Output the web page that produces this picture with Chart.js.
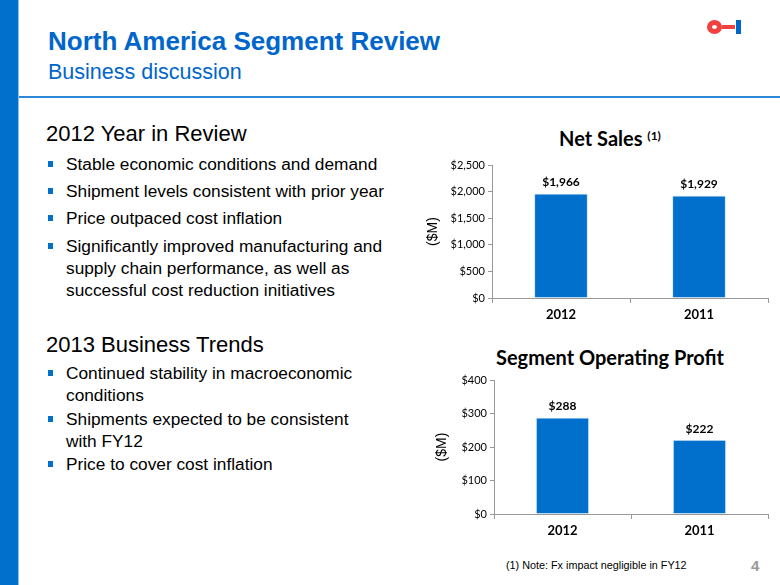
<!DOCTYPE html>
<html>
<head>
<meta charset="utf-8">
<script src="https://cdn.jsdelivr.net/npm/chart.js@4"></script>
<style>
  body { margin: 0; width: 780px; height: 585px; background: #fff; position: relative; overflow: hidden; font-family: "Liberation Sans", Arial, sans-serif; }
  .side { position: absolute; left: 0; top: 0; width: 18px; height: 585px; background: #0070cc; border-right: 1px solid #8fc3ee; }
  .rule { position: absolute; left: 19px; top: 96px; width: 761px; height: 2px; background: #2d86d6; }
  .abs { position: absolute; white-space: nowrap; }
  h1 { position: absolute; left: 48px; top: 26px; margin: 0; font-size: 26px; font-weight: bold; color: #0066cc; }
  h2 { position: absolute; left: 48px; top: 60px; margin: 0; font-size: 21.5px; font-weight: normal; color: #0066cc; }
  .head { font-size: 22px; color: #000; left: 46px; }
  .bul { font-size: 17.3px; color: #000; left: 66px; line-height: 22px; }
  .bul::before { content: ""; position: absolute; left: -18px; top: 8px; width: 5px; height: 6px; background: #0070cc; }
  .ctitle { position: absolute; font-family: Lato, sans-serif; font-weight: bold; font-size: 20px; color: #000; text-align: center; }
  .ctitle sup { font-size: 12px; vertical-align: 6px; }
  canvas { position: absolute; }
</style>
</head>
<body>
<div class="side"></div>
<div class="rule"></div>
<h1>North America Segment Review</h1>
<h2>Business discussion</h2>

<!-- logo -->
<div class="abs" style="left:707px;top:20px;border:5px solid #f04040;border-radius:50%;width:5px;height:4px;"></div>
<div class="abs" style="left:722px;top:25px;width:13px;height:4px;background:#f04040;"></div>
<div class="abs" style="left:736px;top:20px;width:5px;height:14px;background:#0066cc;"></div>

<div class="abs head" style="top:121px;">2012 Year in Review</div>
<div class="abs bul" style="top:153px;">Stable economic conditions and demand</div>
<div class="abs bul" style="top:180px;">Shipment levels consistent with prior year</div>
<div class="abs bul" style="top:207px;">Price outpaced cost inflation</div>
<div class="abs bul" style="top:235px;">Significantly improved manufacturing and<br>supply chain performance, as well as<br>successful cost reduction initiatives</div>

<div class="abs head" style="top:332px;">2013 Business Trends</div>
<div class="abs bul" style="top:362px;">Continued stability in macroeconomic<br>conditions</div>
<div class="abs bul" style="top:408px;">Shipments expected to be consistent<br>with FY12</div>
<div class="abs bul" style="top:453px;">Price to cover cost inflation</div>

<div class="ctitle" style="left:490px;top:126px;width:240px;">Net Sales <sup>(1)</sup></div>
<div class="ctitle" style="left:450px;top:345px;width:320px;">Segment Operating Profit</div>

<canvas id="sales" style="left:425px;top:152px;" width="350" height="176"></canvas>
<canvas id="profit" style="left:434px;top:370px;" width="341" height="174"></canvas>

<div class="abs" style="left:506px;top:559px;font-size:10.8px;color:#000;">(1) Note: Fx impact negligible in FY12</div>
<div class="abs" style="left:751px;top:557px;font-size:15px;font-weight:bold;color:#999;">4</div>

<script>
const years = ["2012", "2011"];
const netSales = [1966, 1929];
const opProfit = [288, 222];
const salesTicks = { max: 2500, step: 500 };
const profitTicks = { max: 400, step: 100 };

const barColor = "#0070cc";
const fontFam = "Lato, sans-serif";

const money = v => "$" + v.toLocaleString("en-US");

const valueLabels = {
  id: "valueLabels",
  afterDatasetsDraw(chart) {
    const ctx = chart.ctx;
    const meta = chart.getDatasetMeta(0);
    ctx.save();
    ctx.font = "bold 12px " + fontFam;
    ctx.fillStyle = "#000";
    ctx.textAlign = "center";
    ctx.textBaseline = "middle";
    meta.data.forEach((bar, i) => {
      ctx.fillText(money(chart.data.datasets[0].data[i]), bar.x, bar.y - 11);
    });
    ctx.restore();
  }
};

function makeChart(id, data, ticks, yWidth, padTop) {
  return new Chart(document.getElementById(id), {
    type: "bar",
    data: {
      labels: years,
      datasets: [{
        data: data,
        backgroundColor: barColor,
        borderColor: "#d8e8f6",
        borderWidth: 1,
        categoryPercentage: 1,
        barPercentage: 0.39
      }]
    },
    options: {
      responsive: false,
      animation: false,
      layout: { padding: { top: padTop, right: 7 } },
      plugins: { legend: { display: false }, tooltip: { enabled: false } },
      scales: {
        x: {
          grid: { display: true, drawOnChartArea: false, tickLength: 5, color: "#999" },
          border: { color: "#999" },
          ticks: { color: "#000", font: { family: fontFam, size: 13, weight: "bold" }, padding: 4 },
          afterFit: s => { s.height = 30; }
        },
        y: {
          min: 0,
          max: ticks.max,
          grid: { display: true, drawOnChartArea: false, tickLength: 4, color: "#999" },
          border: { color: "#999" },
          ticks: {
            stepSize: ticks.step,
            color: "#000",
            padding: 3,
            font: { family: fontFam, size: 11 },
            callback: v => money(v)
          },
          title: { display: true, text: "($M)", color: "#000", font: { family: "Liberation Sans", size: 14 }, padding: 0 },
          afterFit: s => { s.width = yWidth; }
        }
      }
    },
    plugins: [valueLabels]
  });
}

makeChart("sales", netSales, salesTicks, 67, 13);
makeChart("profit", opProfit, profitTicks, 60, 10);
</script>
</body>
</html>
